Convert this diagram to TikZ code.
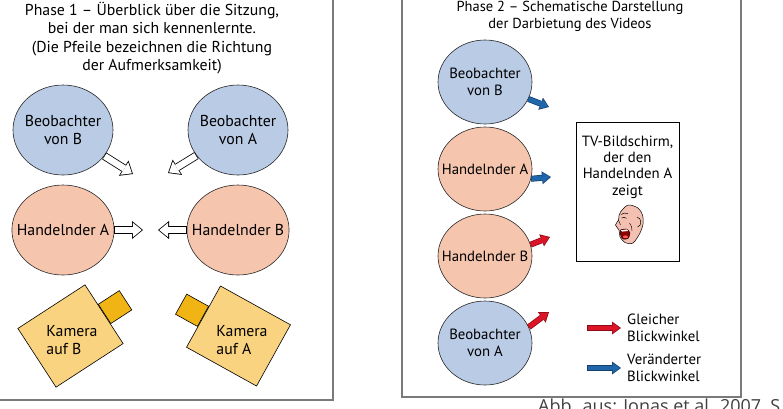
\documentclass[tikz,border=0pt]{standalone}
\usepackage{fontspec}
\setmainfont{PT Sans}
\newfontfamily\quellfont{Open Sans}
\usepackage{tikz}
\usetikzlibrary{arrows.meta,calc,positioning,shapes.geometric}
\definecolor{beobblau}{HTML}{BACBE5}
\definecolor{handlachs}{HTML}{F6C5AE}
\definecolor{kamgelb}{HTML}{FAD380}
\definecolor{linsgelb}{HTML}{F0B414}
\definecolor{blaupfeil}{HTML}{1F67AA}
\definecolor{blaurand}{HTML}{153F6B}
\definecolor{rotpfeil}{HTML}{DC1428}
\definecolor{rotrand}{HTML}{8A0C16}
\definecolor{rahmen}{HTML}{7A7A7A}
\definecolor{haut}{HTML}{F4C0B2}
\tikzset{
>=Stealth,
node distance=87pt,
beob/.style={ellipse,draw=black!85,line width=0.6pt,fill=beobblau,inner xsep=-10pt,inner ysep=0pt,align=center},
hand/.style={ellipse,draw=black!85,line width=0.6pt,fill=handlachs,inner xsep=-10pt,inner ysep=0pt,align=center},
gross/.style={minimum width=100pt,minimum height=90pt,font=\fontsize{15.8}{18.3}\selectfont},
klein/.style={minimum width=94pt,minimum height=84pt,font=\fontsize{14.8}{17}\selectfont},
kamera/.style={draw,line width=0.6pt,fill=kamgelb,minimum width=80pt,minimum height=70pt,inner sep=0pt},
linse/.style={draw,line width=0.6pt,fill=linsgelb,minimum width=25pt,minimum height=23pt,inner sep=0pt},
leer/.style={line width=8pt,-{Triangle[length=11pt,width=18pt,line width=0pt]},
  postaction={draw=white,line width=6.4pt,shorten >=1.26pt,shorten <=0.6pt,-{Triangle[length=8.94pt,width=14.6pt,line width=0pt]}}},
voll/.style 2 args={draw=#1,line width=6pt,-{Triangle[length=9pt,width=13pt,line width=0pt]},
  postaction={draw=#2,line width=4.6pt,shorten >=1.2pt,shorten <=0.5pt,-{Triangle[length=7.1pt,width=10.3pt,line width=0pt]}}},
legende/.style={align=left,inner sep=0pt,font=\fontsize{14.8}{17}\selectfont}}

\begin{document}
\begin{tikzpicture}[x=1pt,y=1pt]
\useasboundingbox (0,0) rectangle (783,-408);

% Phase 1
\draw[rahmen,line width=1.5pt] (-10,10) rectangle (333,-400);
\node[align=center,font=\fontsize{15.8}{18.3}\selectfont] (t1) at (152,-38)
  {Phase 1 -- Überblick über die Sitzung,\\bei der man sich kennenlernte.\\(Die Pfeile bezeichnen die Richtung\\der Aufmerksamkeit)};

\node[beob,gross] (bB) at (63,-130) {Beobachter\\von B};
\node[beob,gross,node distance=175pt,right of=bB] (bA) {Beobachter\\von A};
\node[hand,gross,node distance=100pt,below of=bB] (hA) {Handelnder A};
\node[hand,gross,node distance=175pt,right of=hA] (hB) {Handelnder B};

\coordinate (zbB) at (133,-174);
\coordinate (zbA) at (168,-173);
\coordinate (zhA) at (143,-230);
\coordinate (zhB) at (158,-230);
\draw[leer] (bB) -- (zbB);
\draw[leer] (bA) -- (zbA);
\draw[leer] (hA) -- (zhA);
\draw[leer] (hB) -- (zhB);

\node[kamera,rotate=33] (kB) at (70.5,-336) {};
\node[linse,rotate=33,anchor=west] (lB) at (kB.east) {};
\node[align=left,font=\fontsize{15.8}{18.3}\selectfont] at ($(kB)+(1.5,-4)$) {Kamera\\auf B};
\node[kamera,rotate=-29] (kA) at (238.5,-336) {};
\node[linse,rotate=-29,anchor=east] (lA) at (kA.west) {};
\node[align=left,font=\fontsize{15.8}{18.3}\selectfont] at ($(kA)+(3.5,-4)$) {Kamera\\auf A};

% Phase 2
\draw[rahmen,line width=1.5pt] (402,10) rectangle (741,-397);
\node[align=center,font=\fontsize{14.5}{17}\selectfont] (t2) at (570,-16.5)
  {Phase 2 -- Schematische Darstellung\\der Darbietung des Videos};

\node[beob,klein] (rB) at (485,-82) {Beobachter\\von B};
\node[hand,klein,below of=rB] (rHA) {Handelnder A};
\node[hand,klein,below of=rHA] (rHB) {Handelnder B};
\node[beob,klein,below of=rHB] (rBA) {Beobachter\\von A};

\coordinate (zB) at (549,-107);
\coordinate (zHA) at (551,-177);
\coordinate (zHB) at (550,-237);
\coordinate (zBA) at (549,-312);
\draw[voll={blaurand}{blaupfeil}] (rB) -- (zB);
\draw[voll={blaurand}{blaupfeil}] (rHA.-12) -- (zHA);
\draw[voll={rotrand}{rotpfeil}] (rHB.14) -- (zHB);
\draw[voll={rotrand}{rotpfeil}] (rBA.20) -- (zBA);

\node[draw,line width=0.7pt,minimum width=103pt,minimum height=139pt] (tv) at (627.5,-191.5) {};
\node[align=center,inner sep=0pt,font=\fontsize{14.8}{16.3}\selectfont,below=14pt of tv.north] (tvtext)
  {TV-Bildschirm,\\der den\\Handelnden A\\zeigt};

% Gesicht
\draw[line width=0.5pt,fill=haut] plot[smooth cycle] coordinates {(620.5,-212) (628,-205) (638,-208) (642.5,-215) (643,-224) (640,-233) (633,-243) (625,-242.5) (620,-237) (619,-230) (615.5,-225) (618.5,-220) (619,-215.5)};
\draw[line width=0.4pt,fill=red!55!black] plot[smooth cycle] coordinates {(620.5,-230) (626.5,-229) (630,-233) (628,-238.5) (623,-239) (620.5,-235)};
\fill[red!65!white] (625.5,-236.8) ellipse (2.6 and 1.4);
\fill[white] (621,-230.2) -- (627,-229.4) -- (628,-231) -- (622,-231.6) -- cycle;
\draw[line width=0.5pt] (621.5,-218) to[bend left=30] (626.5,-218.3);
\draw[line width=0.5pt] (621,-214.5) to[bend left=25] (628,-213.5);
\draw[line width=0.4pt] (618.5,-220) -- (620.5,-225);
\draw[line width=0.5pt] (637,-217) .. controls (642,-218) and (642,-226) .. (637.5,-227);
\draw[line width=0.4pt] (629.5,-223) to[bend left=20] (632,-231);

\coordinate (lr1) at (587,-328);
\coordinate (lr2) at (621,-328);
\coordinate (lb1) at (587,-368);
\coordinate (lb2) at (621,-368);
\draw[voll={rotrand}{rotpfeil}] (lr1) -- (lr2);
\draw[voll={blaurand}{blaupfeil}] (lb1) -- (lb2);
\node[legende,right=6pt of lr2] (lrt) {Gleicher\\Blickwinkel};
\node[legende,right=6pt of lb2] (lbt) {Veränderter\\Blickwinkel};

\node[anchor=base west,inner sep=0pt,text=black!75,font=\quellfont\fontsize{18}{20}\selectfont] (quelle) at (538,-412) {Abb. aus: Jonas et al. 2007, S};

\end{tikzpicture}
\end{document}
